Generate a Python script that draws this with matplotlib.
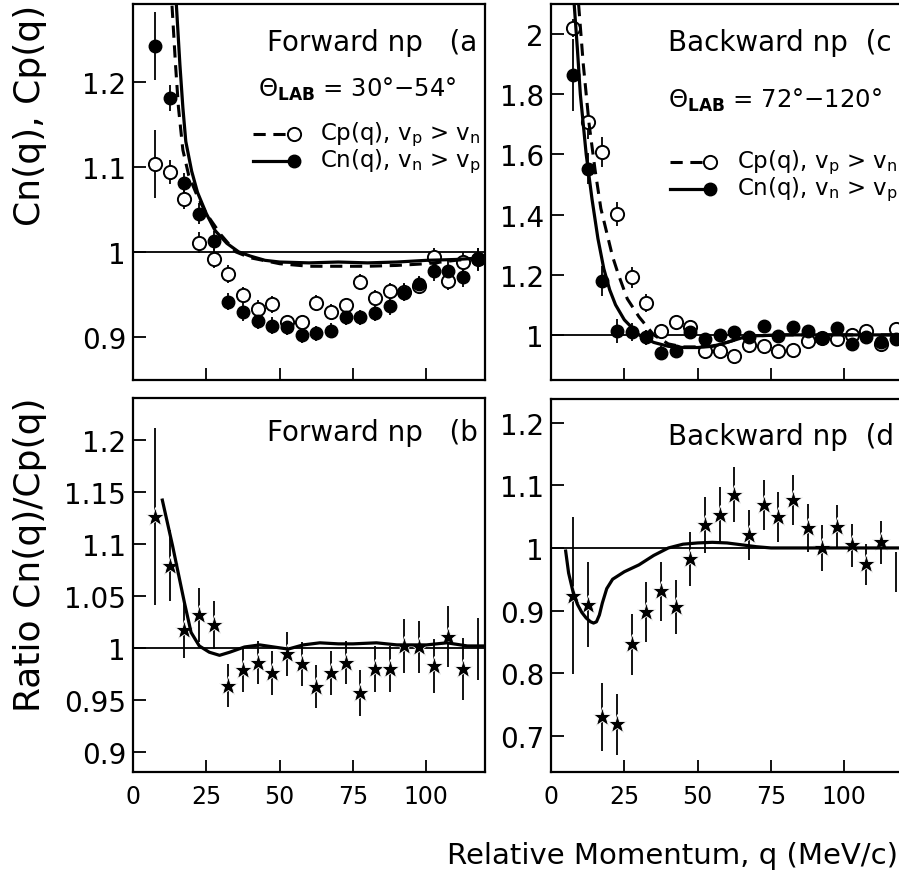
import numpy as np
import matplotlib.pyplot as plt
from matplotlib.ticker import FuncFormatter

# ---------------- data ----------------
q = [7.5, 12.5, 17.5, 22.5, 27.5, 32.5, 37.5, 42.5, 47.5, 52.5, 57.5, 62.5,
     67.5, 72.5, 77.5, 82.5, 87.5, 92.5, 97.5, 102.5, 107.5, 112.5, 117.5]

# (a) forward np
fwd_cp = [1.104, 1.094, 1.062, 1.011, 0.992, 0.974, 0.949, 0.933, 0.938, 0.917, 0.917, 0.940,
          0.929, 0.937, 0.965, 0.946, 0.954, 0.953, 0.960, 0.994, 0.966, 0.988, 0.992]
fwd_cp_err = [0.040, 0.014, 0.012, 0.012, 0.011, 0.011, 0.010, 0.010, 0.010, 0.009, 0.009, 0.009,
              0.009, 0.009, 0.009, 0.009, 0.009, 0.010, 0.010, 0.011, 0.011, 0.012, 0.013]
fwd_cn = [1.243, 1.181, 1.081, 1.045, 1.013, 0.941, 0.929, 0.919, 0.913, 0.911, 0.902, 0.904,
          0.907, 0.923, 0.923, 0.928, 0.936, 0.952, 0.962, 0.977, 0.978, 0.970, 0.991]
fwd_cn_err = [0.040, 0.015, 0.012, 0.012, 0.011, 0.010, 0.010, 0.010, 0.010, 0.009, 0.009, 0.009,
              0.009, 0.009, 0.009, 0.009, 0.010, 0.010, 0.010, 0.011, 0.011, 0.012, 0.013]

fwd_cn_curve_q = [14.8, 16, 17, 18, 20, 22, 25, 28, 32, 36, 40, 45, 50, 60, 70, 80, 90, 100, 110, 120]
fwd_cn_curve = [1.29, 1.22, 1.17, 1.13, 1.095, 1.07, 1.045, 1.025, 1.01, 1.0, 0.995, 0.99, 0.988,
                0.987, 0.988, 0.987, 0.988, 0.99, 0.991, 0.993]
fwd_cp_curve_q = [13.3, 14.5, 15.5, 17, 19, 22, 25, 30, 35, 40, 50, 60, 70, 80, 90, 100, 110, 120]
fwd_cp_curve = [1.29, 1.22, 1.17, 1.12, 1.09, 1.065, 1.045, 1.02, 1.0, 0.993, 0.986, 0.983,
                0.983, 0.983, 0.984, 0.986, 0.99, 0.993]

# (c) backward np
bwd_cp = [2.02, 1.707, 1.609, 1.403, 1.192, 1.107, 1.012, 1.044, 1.026, 0.948, 0.948, 0.929,
          0.968, 0.964, 0.948, 0.951, 0.981, 0.990, 0.987, 1.000, 1.014, 0.970, 1.020]
bwd_cp_err = [0.03, 0.055, 0.05, 0.04, 0.035, 0.03, 0.025, 0.022, 0.02, 0.02, 0.02, 0.02,
              0.02, 0.02, 0.02, 0.02, 0.02, 0.02, 0.02, 0.02, 0.02, 0.02, 0.02]
bwd_cn = [1.864, 1.553, 1.178, 1.012, 1.010, 0.992, 0.940, 0.948, 1.009, 0.987, 0.998, 1.010,
          0.992, 1.031, 0.996, 1.026, 1.014, 0.990, 1.024, 0.970, 0.992, 0.977, 0.987]
bwd_cn_err = [0.12, 0.05, 0.05, 0.04, 0.03, 0.025, 0.022, 0.02, 0.02, 0.02, 0.02, 0.02,
              0.02, 0.02, 0.02, 0.02, 0.02, 0.02, 0.02, 0.02, 0.02, 0.02, 0.02]

bwd_cn_curve_q = [7.9, 9, 10, 12, 14, 16, 18, 20, 22, 25, 30, 35, 40, 45, 50, 55, 60, 65, 70, 80, 120]
bwd_cn_curve = [2.1, 1.95, 1.80, 1.60, 1.45, 1.32, 1.22, 1.15, 1.10, 1.05, 1.0, 0.975, 0.962,
                0.958, 0.958, 0.962, 0.975, 0.99, 0.997, 1.0, 1.0]
bwd_cp_curve_q = [9.4, 11, 13, 15, 17, 19, 21, 23, 26, 30, 35, 40, 45, 50, 55, 60, 65, 70, 80, 120]
bwd_cp_curve = [2.1, 1.9, 1.7, 1.55, 1.42, 1.34, 1.26, 1.20, 1.12, 1.06, 1.0, 0.97, 0.96, 0.96,
                0.963, 0.975, 0.99, 0.997, 1.0, 1.0]

# (b) forward ratio
fwd_ratio = [1.126, 1.079, 1.017, 1.032, 1.022, 0.964, 0.979, 0.986, 0.976, 0.994, 0.985, 0.963,
             0.976, 0.986, 0.957, 0.980, 0.980, 1.002, 1.001, 0.983, 1.011, 0.980, 0.999]
fwd_ratio_err = [0.085, 0.034, 0.027, 0.026, 0.023, 0.021, 0.021, 0.021, 0.021, 0.021, 0.021, 0.021,
                 0.021, 0.021, 0.022, 0.022, 0.022, 0.026, 0.025, 0.026, 0.029, 0.030, 0.030]
fwd_ratio_curve_q = [10, 13.5, 17.5, 19.8, 22.6, 26, 29.5, 33, 38, 43.2, 48, 52.9, 58, 63.7, 70,
                     75, 83, 90, 100, 107, 114, 120]
fwd_ratio_curve = [1.142, 1.098, 1.044, 1.015, 1.002, 0.996, 0.993, 0.996, 1.001, 1.003, 1.001,
                   0.999, 1.003, 1.005, 1.004, 1.004, 1.005, 1.003, 1.003, 1.005, 1.002, 1.002]

# (d) backward ratio
bwd_ratio = [0.924, 0.909, 0.730, 0.718, 0.846, 0.897, 0.931, 0.905, 0.982, 1.037, 1.053, 1.085,
             1.021, 1.069, 1.049, 1.076, 1.032, 1.000, 1.033, 1.004, 0.974, 1.009, 0.961]
bwd_ratio_err = [0.125, 0.068, 0.055, 0.049, 0.049, 0.048, 0.047, 0.043, 0.043, 0.045, 0.045, 0.044,
                 0.040, 0.040, 0.040, 0.040, 0.039, 0.037, 0.035, 0.035, 0.033, 0.034, 0.032]
bwd_ratio_curve_q = [5, 6, 7.5, 9, 10.5, 12, 13.5, 14.5, 15.5, 16.5, 17.5, 19, 21, 25, 30, 35, 40,
                     45, 50, 55, 60, 65, 70, 75, 80, 120]
bwd_ratio_curve = [0.995, 0.96, 0.93, 0.91, 0.897, 0.888, 0.882, 0.880, 0.882, 0.893, 0.912, 0.935,
                   0.95, 0.962, 0.973, 0.988, 1.0, 1.006, 1.008, 1.009, 1.008, 1.005, 1.002, 1.0,
                   1.0, 1.0]

# ---------------- figure ----------------
fig = plt.figure(figsize=(8.99, 8.79), dpi=100)
W, H = 899, 879


def make_ax(x0, y0, x1, y1):
    return fig.add_axes([x0 / W, 1 - y1 / H, (x1 - x0) / W, (y1 - y0) / H])


ax_a = make_ax(133, 5, 485, 381)
ax_c = make_ax(551, 5, 903, 381)
ax_b = make_ax(133, 399, 485, 773)
ax_d = make_ax(551, 400, 903, 773)

fmt = FuncFormatter(lambda v, p: f"{v:g}")
for ax in (ax_a, ax_b, ax_c, ax_d):
    ax.set_xlim(0, 120)
    ax.set_xticks([0, 25, 50, 75, 100])
    ax.tick_params(direction="in", length=9, width=1.3, top=False, right=False)
    ax.tick_params(axis="x", pad=9, labelsize=17)
    ax.tick_params(axis="y", pad=5, labelsize=20)
    ax.yaxis.set_major_formatter(fmt)
    for s in ax.spines.values():
        s.set_linewidth(1.6)
    ax.axhline(1.0, color="black", lw=1.3, zorder=1)

for ax in (ax_a, ax_c):
    ax.set_xticklabels([])

ax_a.set_ylim(0.849, 1.292)
ax_a.set_yticks([0.9, 1.0, 1.1, 1.2])
ax_c.set_ylim(0.85, 2.10)
ax_c.set_yticks([1.0, 1.2, 1.4, 1.6, 1.8, 2.0])
ax_b.set_ylim(0.881, 1.240)
ax_b.set_yticks([0.9, 0.95, 1.0, 1.05, 1.1, 1.15, 1.2])
ax_d.set_ylim(0.642, 1.238)
ax_d.set_yticks([0.7, 0.8, 0.9, 1.0, 1.1, 1.2])

eb = dict(fmt="none", ecolor="black", elinewidth=1.3, capsize=0, zorder=2)
dash = (0, (4, 2.5))


def corr_panel(ax, cp, cp_err, cn, cn_err, cpq, cpc, cnq, cnc):
    ax.errorbar(q, cp, yerr=cp_err, **eb)
    ax.errorbar(q, cn, yerr=cn_err, **eb)
    ax.plot(q, cp, "o", ms=9.5, mfc="white", mec="black", mew=1.4, zorder=3)
    ax.plot(q, cn, "o", ms=9, mfc="black", mec="black", zorder=4)
    ax.plot(cpq, cpc, color="black", lw=2.2, ls=dash, zorder=5)
    ax.plot(cnq, cnc, color="black", lw=2.3, zorder=5)


corr_panel(ax_a, fwd_cp, fwd_cp_err, fwd_cn, fwd_cn_err,
           fwd_cp_curve_q, fwd_cp_curve, fwd_cn_curve_q, fwd_cn_curve)
corr_panel(ax_c, bwd_cp, bwd_cp_err, bwd_cn, bwd_cn_err,
           bwd_cp_curve_q, bwd_cp_curve, bwd_cn_curve_q, bwd_cn_curve)


def ratio_panel(ax, r, r_err, cq, cv):
    ax.errorbar(q, r, yerr=r_err, **eb)
    # the last bin sits on the frame edge: only its error bar shows
    ax.plot(q[:-1], r[:-1], "*", ms=14, mfc="black", mec="white", mew=0.6, zorder=3)
    ax.plot(cq, cv, color="black", lw=2.3, zorder=4)


ratio_panel(ax_b, fwd_ratio, fwd_ratio_err, fwd_ratio_curve_q, fwd_ratio_curve)
ratio_panel(ax_d, bwd_ratio, bwd_ratio_err, bwd_ratio_curve_q, bwd_ratio_curve)

# ---------------- texts ----------------
tfs = 20
ax_a.text(0.381, 0.898, "Forward np   (a", transform=ax_a.transAxes, fontsize=tfs, va="center")
ax_b.text(0.381, 0.908, "Forward np   (b", transform=ax_b.transAxes, fontsize=tfs, va="center")
ax_c.text(0.332, 0.898, "Backward np  (c", transform=ax_c.transAxes, fontsize=tfs, va="center")
ax_d.text(0.332, 0.902, "Backward np  (d", transform=ax_d.transAxes, fontsize=tfs, va="center")
ax_a.text(0.355, 0.775, r"$\Theta_{\mathbf{LAB}}$ = 30°−54°", transform=ax_a.transAxes,
          fontsize=17.5, va="center")
ax_c.text(0.332, 0.745, r"$\Theta_{\mathbf{LAB}}$ = 72°−120°", transform=ax_c.transAxes,
          fontsize=17.5, va="center")


def legend_rows(ax, x0, y_top, y_bot):
    t = ax.transAxes
    ax.plot([x0, x0 + 0.095], [y_top, y_top], color="black", lw=2.2, ls=dash,
            transform=t, clip_on=False)
    ax.plot([x0 + 0.115], [y_top], "o", ms=9.5, mfc="white", mec="black", mew=1.4,
            transform=t, clip_on=False)
    ax.plot([x0, x0 + 0.095], [y_bot, y_bot], color="black", lw=2.3, transform=t,
            clip_on=False)
    ax.plot([x0 + 0.115], [y_bot], "o", ms=9, mfc="black", mec="black",
            transform=t, clip_on=False)
    ax.text(x0 + 0.19, y_top, r"Cp(q), $\mathregular{v_p}$ > $\mathregular{v_n}$",
            transform=t, fontsize=16.5, va="center")
    ax.text(x0 + 0.19, y_bot, r"Cn(q), $\mathregular{v_n}$ > $\mathregular{v_p}$",
            transform=t, fontsize=16.5, va="center")


legend_rows(ax_a, 0.341, 0.654, 0.582)
legend_rows(ax_c, 0.338, 0.580, 0.508)

fig.text(30 / W, 1 - 115 / H, "Cn(q), Cp(q)", fontsize=26, rotation=90,
         ha="center", va="center")
fig.text(30 / W, 1 - 555 / H, "Ratio Cn(q)/Cp(q)", fontsize=26, rotation=90,
         ha="center", va="center")
fig.text(0.999, 1 - 856 / H, "Relative Momentum, q (MeV/c)", fontsize=21,
         ha="right", va="center")

fig.savefig("out.png", dpi=100)
